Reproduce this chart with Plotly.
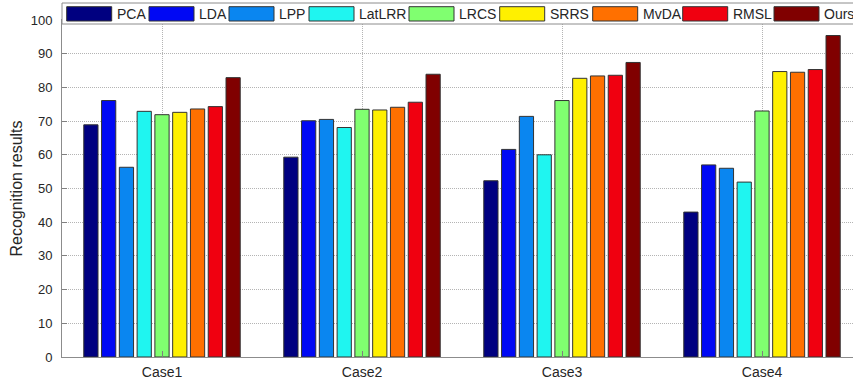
import plotly.graph_objects as go

# Recognition results per method for each test case
cases = ["Case1", "Case2", "Case3", "Case4"]
methods = ["PCA", "LDA", "LPP", "LatLRR", "LRCS", "SRRS", "MvDA", "RMSL", "Ours"]
pca = [68.9, 59.3, 52.3, 43.0]
lda = [76.1, 70.1, 61.6, 57.0]
lpp = [56.3, 70.5, 71.4, 56.0]
latlrr = [72.9, 68.1, 60.0, 51.9]
lrcs = [71.9, 73.5, 76.1, 73.0]
srrs = [72.6, 73.3, 82.7, 84.7]
mvda = [73.6, 74.1, 83.4, 84.5]
rmsl = [74.3, 75.6, 83.6, 85.3]
ours = [82.9, 83.9, 87.4, 95.4]
series = [pca, lda, lpp, latlrr, lrcs, srrs, mvda, rmsl, ours]

y_ticks = list(range(0, 101, 10))

# jet-style palette
colors = ["#000080", "#0008f4", "#0a86f0", "#1ff5f0", "#80ff70",
          "#fff000", "#ff7000", "#f00010", "#800000"]

FONT = "Arial, Liberation Sans, sans-serif"
TXT = "#262626"

W, H = 853, 385
ML, MR, MT, MB = 62, 0, 20, 28
plot_w = W - ML - MR
plot_h = H - MT - MB

x_pos = [i + 1 for i in range(len(cases))]

fig = go.Figure()
for name, vals, col in zip(methods, series, colors):
    fig.add_trace(go.Bar(
        x=x_pos, y=vals, name=name,
        marker=dict(color=col, line=dict(color="#333333", width=1)),
        showlegend=False,
    ))

# x range: 200 px per category, left edge half a category before Case1
x_lo = 0.5
x_hi = x_lo + plot_w / 200.0


def px_x(p):
    return (p - ML) / plot_w


def px_y(p):
    return (H - MB - p) / plot_h


shapes = []
annotations = []

# legend box along the top
shapes.append(dict(type="rect", xref="paper", yref="paper",
                   x0=px_x(62), x1=px_x(880), y0=px_y(24), y1=px_y(3),
                   fillcolor="white", line=dict(color="#8c8c8c", width=1),
                   layer="above"))
swatch_left = [66.7, 149, 229, 309, 409, 499.7, 592.7, 682.7, 774]
sw_w = 45
for name, col, sx in zip(methods, colors, swatch_left):
    shapes.append(dict(type="rect", xref="paper", yref="paper",
                       x0=px_x(sx), x1=px_x(sx + sw_w),
                       y0=px_y(21), y1=px_y(6.7),
                       fillcolor=col, line=dict(color="#333333", width=1),
                       layer="above"))
    annotations.append(dict(xref="paper", yref="paper",
                            x=px_x(sx + sw_w + 3), y=px_y(14),
                            text=name, showarrow=False,
                            xanchor="left", yanchor="middle",
                            font=dict(family=FONT, size=14, color=TXT)))

fig.update_layout(
    width=W, height=H,
    margin=dict(l=ML, r=MR, t=MT, b=MB, pad=0),
    paper_bgcolor="white", plot_bgcolor="white",
    barmode="group", bargap=0.2, bargroupgap=0.2,
    font=dict(family=FONT, size=13, color=TXT),
    shapes=shapes, annotations=annotations,
    showlegend=False,
)
fig.update_xaxes(
    range=[x_lo, x_hi], tickvals=x_pos, ticktext=cases,
    ticks="inside", ticklen=6, tickcolor="#808080",
    showline=True, linecolor="#8c8c8c", linewidth=1, mirror=True,
    showgrid=True, gridcolor="#b4b4b4", griddash="1px,1px", gridwidth=1,
    tickfont=dict(family=FONT, size=14, color=TXT),
    ticklabelstandoff=2,
    zeroline=False,
)
fig.update_yaxes(
    range=[0, 100], tickvals=y_ticks,
    ticks="inside", ticklen=5, tickcolor="#808080",
    showline=True, linecolor="#8c8c8c", linewidth=1, mirror=True,
    showgrid=True, gridcolor="#b4b4b4", griddash="1px,1px", gridwidth=1,
    tickfont=dict(family=FONT, size=13, color=TXT),
    ticklabelstandoff=6,
    title=dict(text="Recognition results", standoff=4,
               font=dict(family=FONT, size=16, color=TXT)),
    zeroline=False,
)

fig.write_html("out.html")
